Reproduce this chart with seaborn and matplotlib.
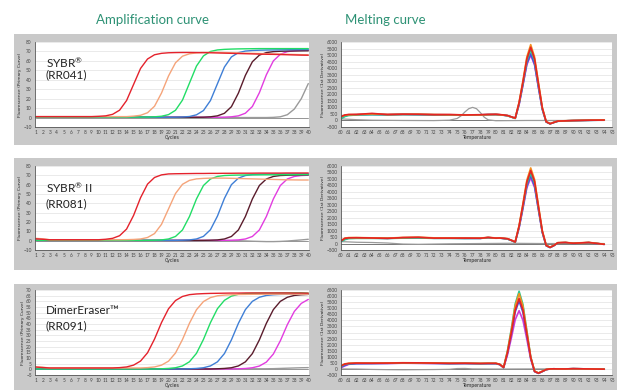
import seaborn as sns
import matplotlib.pyplot as plt
from matplotlib.patches import Rectangle
from matplotlib.ticker import MultipleLocator

# ---------------- data ----------------
cycles = list(range(1, 41))

# SYBR (RR041) amplification
sybr_red = [1, 1, 1, 1, 1, 1, 1, 1, 1, 1.3, 1.8, 3.4, 7.8, 18, 35, 52, 62, 66.5, 68, 68.6,
            68.8, 68.9, 68.9, 68.8, 68.7, 68.6, 68.4, 68.2, 68, 67.8, 67.6, 67.4, 67.2, 67, 66.9, 66.7, 66.5, 66.3, 66.1, 66]
sybr_orange = [1, 1, 1, 1, 1, 1, 1, 1, 1, 1, 1, 1, 1, 1, 1.5, 2.4, 5.1, 12, 26, 44,
               58, 65, 67.5, 68.5, 69, 69, 69, 68.8, 68.6, 68.4, 68.2, 68, 67.8, 67.6, 67.4, 67.2, 67, 66.8, 66.6, 66.4]
sybr_green = [0.5, 0.5, 0.5, 0.5, 0.5, 0.5, 0.5, 0.5, 0.5, 0.5, 0.5, 0.5, 0.5, 0.5, 0.5, 0.5, 0.6, 0.8, 1.4, 3.1,
              7.7, 18.5, 36.5, 54.5, 65.3, 70, 71.6, 72.2, 72.5, 72.7, 72.8, 72.9, 73, 73, 73, 73, 73, 73, 73, 73]
sybr_blue = [0.3, 0.3, 0.3, 0.3, 0.3, 0.3, 0.3, 0.3, 0.3, 0.3, 0.3, 0.3, 0.3, 0.3, 0.3, 0.3, 0.3, 0.3, 0.3, 0.3,
             0.4, 0.6, 1.1, 2.9, 7.4, 18, 35.8, 53.5, 64.2, 68.7, 70.4, 71, 71.3, 71.5, 71.6, 71.7, 71.8, 71.9, 72, 72]
sybr_maroon = [0.3, 0.3, 0.3, 0.3, 0.3, 0.3, 0.3, 0.3, 0.3, 0.3, 0.3, 0.3, 0.3, 0.3, 0.3, 0.3, 0.3, 0.3, 0.3, 0.3,
               0.3, 0.3, 0.3, 0.3, 0.4, 0.8, 1.8, 4.5, 11.5, 25.9, 44.7, 59.1, 66.1, 68.8, 69.8, 70.2, 70.4, 70.5, 70.6, 70.7]
sybr_magenta = [0.3, 0.3, 0.3, 0.3, 0.3, 0.3, 0.3, 0.3, 0.3, 0.3, 0.3, 0.3, 0.3, 0.3, 0.3, 0.3, 0.3, 0.3, 0.3, 0.3,
                0.3, 0.3, 0.3, 0.3, 0.3, 0.3, 0.3, 0.4, 0.8, 1.8, 4.6, 11.7, 26.3, 45.3, 60, 67, 69.8, 70.8, 71.2, 71.4]
sybr_gray = [0, 0, 0, 0, 0, 0, 0, 0, 0, 0, 0, 0, 0, 0, 0, 0, 0, 0, 0, 0,
             0, 0, 0, 0, 0, 0, 0, 0, 0, 0, 0, 0, 0, 0, 0.2, 0.8, 3, 9, 20, 36]

# SYBR II (RR081) amplification
sybr2_red = [2, 1.5, 1, 1, 1, 1, 1, 1, 1, 1, 1.5, 2.5, 5.3, 12.4, 27, 46, 60.6, 67.7, 70.5, 71.5,
             71.7, 71.8, 71.9, 72, 72, 72.1, 72.1, 72.2, 72.2, 72.3, 72.3, 72.3, 72.4, 72.4, 72.4, 72.4, 72.5, 72.5, 72.5, 72.5]
sybr2_orange = [2.5, 2, 1, 1, 1, 1, 1, 1, 1, 1, 1, 1, 1, 1.1, 1.3, 1.8, 3.4, 7.6, 17.5, 34,
                50.5, 60.4, 64.6, 66.2, 66.7, 67, 67, 67, 66.8, 66.6, 66.4, 66.2, 66, 65.8, 65.6, 65.4, 65.2, 65.1, 65, 65]
sybr2_green = [0.3, 0.3, 0.3, 0.3, 0.3, 0.3, 0.3, 0.3, 0.3, 0.3, 0.3, 0.3, 0.3, 0.3, 0.3, 0.3, 0.35, 0.5, 0.8, 1.8,
               4.5, 11.5, 25.9, 44.7, 59.1, 66.1, 68.8, 69.8, 70.1, 70.3, 70.4, 70.5, 70.5, 70.6, 70.6, 70.7, 70.7, 70.7, 70.8, 70.8]
sybr2_blue = [0.3, 0.3, 0.3, 0.3, 0.3, 0.3, 0.3, 0.3, 0.3, 0.3, 0.3, 0.3, 0.3, 0.3, 0.3, 0.3, 0.3, 0.3, 0.3, 0.3,
              0.35, 0.5, 0.8, 1.8, 4.6, 11.7, 26.3, 45.3, 60, 67, 69.8, 70.8, 71.1, 71.3, 71.4, 71.5, 71.5, 71.6, 71.6, 71.7]
sybr2_maroon = [0.3, 0.3, 0.3, 0.3, 0.3, 0.3, 0.3, 0.3, 0.3, 0.3, 0.3, 0.3, 0.3, 0.3, 0.3, 0.3, 0.3, 0.3, 0.3, 0.3,
                0.3, 0.3, 0.3, 0.3, 0.35, 0.5, 0.8, 1.8, 4.5, 11.5, 25.9, 44.7, 59.1, 66.1, 68.8, 69.8, 70.1, 70.3, 70.4, 70.5]
sybr2_magenta = [0.3, 0.3, 0.3, 0.3, 0.3, 0.3, 0.3, 0.3, 0.3, 0.3, 0.3, 0.3, 0.3, 0.3, 0.3, 0.3, 0.3, 0.3, 0.3, 0.3,
                 0.3, 0.3, 0.3, 0.3, 0.3, 0.3, 0.3, 0.35, 0.5, 0.8, 1.8, 4.5, 11.5, 25.9, 44.7, 59.1, 66.1, 68.8, 69.8, 70.1]
sybr2_gray = [0, 0, 0, 0, 0, 0, 0, 0, 0, 0, 0, 0, 0, 0, 0, 0, 0, 0, 0, 0,
              0, 0, 0, 0, 0, 0, 0, 0, 0, 0, -0.3, -0.6, -0.8, -1, -1, -0.8, -0.4, 0.2, 0.8, 1.5]

# DimerEraser (RR091) amplification
dimer_red = [2, 1.6, 1.2, 1.2, 1.2, 1.2, 1.2, 1.2, 1.2, 1.2, 1.2, 1.2, 1.5, 2.1, 3.7, 7.3, 14.6, 26.7, 41.3, 53.4,
             60.7, 64.3, 65.9, 66.5, 66.8, 67, 67.1, 67.2, 67.3, 67.3, 67.4, 67.4, 67.4, 67.4, 67.4, 67.4, 67.4, 67.3, 67.3, 67.2]
dimer_orange = [2.2, 1.8, 1.2, 1.2, 1.2, 1.2, 1.2, 1.2, 1.2, 1.2, 1.2, 1.2, 1.2, 1.2, 1.2, 1.2, 1.5, 2.1, 3.7, 7.2,
                14.4, 26.3, 40.7, 52.6, 59.8, 63.3, 64.9, 65.5, 65.8, 66, 66.1, 66.2, 66.2, 66.3, 66.3, 66.3, 66.3, 66.3, 66.3, 66.3]
dimer_green = [0.3, 0.3, 0.3, 0.3, 0.3, 0.3, 0.3, 0.3, 0.3, 0.3, 0.3, 0.3, 0.3, 0.3, 0.3, 0.3, 0.3, 0.3, 0.5, 0.8,
               1.4, 3, 6.7, 14.1, 26.4, 41.2, 53.5, 60.9, 64.6, 66.2, 66.8, 67.1, 67.2, 67.3, 67.3, 67.4, 67.4, 67.5, 67.5, 67.2]
dimer_blue = [0.3, 0.3, 0.3, 0.3, 0.3, 0.3, 0.3, 0.3, 0.3, 0.3, 0.3, 0.3, 0.3, 0.3, 0.3, 0.3, 0.3, 0.3, 0.3, 0.3,
              0.3, 0.3, 0.5, 0.8, 1.4, 3, 6.6, 13.9, 26, 40.6, 52.7, 60, 63.6, 65.2, 65.8, 66.1, 66.2, 66.3, 66.3, 66.4]
dimer_maroon = [0.3, 0.3, 0.3, 0.3, 0.3, 0.3, 0.3, 0.3, 0.3, 0.3, 0.3, 0.3, 0.3, 0.3, 0.3, 0.3, 0.3, 0.3, 0.3, 0.3,
                0.3, 0.3, 0.3, 0.3, 0.3, 0.3, 0.5, 0.8, 1.4, 3, 6.6, 13.9, 26, 40.6, 52.7, 60, 63.6, 65.2, 65.8, 66.1]
dimer_magenta = [0.3, 0.3, 0.3, 0.3, 0.3, 0.3, 0.3, 0.3, 0.3, 0.3, 0.3, 0.3, 0.3, 0.3, 0.3, 0.3, 0.3, 0.3, 0.3, 0.3,
                 0.3, 0.3, 0.3, 0.3, 0.3, 0.3, 0.3, 0.3, 0.3, 0.5, 0.75, 1.4, 2.9, 6.4, 13.5, 25.2, 39.4, 51.1, 58.2, 61.7]
dimer_gray = [0.5, 0.5, 0.5, 0.5, 0.5, 0.5, 0.5, 0.5, 0.5, 0.5, 0.5, 0.5, 0.5, 0.5, 0.5, 0.5, 0.5, 0.5, 0.5, 0.5,
              0.5, 0.5, 0.5, 0.5, 0.5, 0.5, 0.5, 0.5, 0.5, 0.5, 0.5, 0.5, 0.5, 0.5, 0.6, 0.8, 1, 1.2, 1.4, 1.5]
amp_zero = [0, 0, 0, 0, 0, 0, 0, 0, 0, 0, 0, 0, 0, 0, 0, 0, 0, 0, 0, 0,
            0, 0, 0, 0, 0, 0, 0, 0, 0, 0, 0, 0, 0, 0, 0, 0, 0, 0, 0, 0]

# melting curves (-dF/dT)
temps = [60, 60.5, 61, 62, 64, 66, 68, 70, 72, 74, 76, 78, 79, 80, 80.5, 81, 81.5, 82, 82.5, 83,
         83.5, 84, 84.5, 85, 85.5, 86, 86.5, 87, 87.5, 88, 89, 90, 92, 94]

melt_sybr_red = [300, 420, 460, 460, 540, 450, 480, 470, 440, 450, 420, 440, 460, 470, 450, 420, 380, 280, 180, 1350,
                 2950, 4700, 5600, 4700, 2800, 950, -100, -250, -150, -50, -30, -10, 20, 30]
melt_sybr_orange = [280, 400, 440, 450, 500, 460, 470, 480, 460, 440, 430, 430, 450, 460, 440, 410, 370, 270, 170, 1400,
                    3050, 4850, 5800, 4850, 2900, 1000, -80, -240, -140, -50, -20, 0, 20, 40]
melt_sybr_green = [120, 300, 380, 420, 440, 430, 450, 440, 430, 420, 410, 420, 440, 450, 430, 400, 360, 260, 160, 1300,
                   2850, 4550, 5400, 4550, 2700, 900, -110, -250, -150, -60, -30, -10, 10, 30]
melt_sybr_blue = [200, 350, 420, 440, 460, 440, 460, 450, 440, 430, 420, 430, 450, 450, 430, 400, 360, 260, 160, 1250,
                  2750, 4350, 5100, 4300, 2550, 850, -120, -260, -150, -60, -30, -10, 10, 30]
melt_sybr_magenta = [220, 380, 430, 440, 470, 450, 470, 460, 440, 440, 420, 430, 450, 460, 440, 410, 370, 270, 170, 1200,
                     2700, 4250, 5000, 4250, 2500, 850, -100, -250, -150, -50, -30, -10, 20, 30]
gray_temps_sybr = [60, 62, 64, 68, 72, 74, 75, 75.5, 76, 76.5, 77, 77.5, 78, 78.5, 79, 80, 84, 88, 94]
melt_sybr_gray = [120, 60, 20, 0, -10, 20, 150, 350, 650, 900, 1000, 900, 600, 250, 50, -20, 0, 0, 0]

melt_sybr2_red = [200, 400, 440, 450, 430, 400, 460, 480, 420, 420, 420, 410, 470, 420, 430, 400, 370, 250, 120, 1350,
                  3000, 4750, 5650, 4800, 2850, 950, -150, -300, -150, 60, 80, 20, 80, -60]
melt_sybr2_orange = [220, 420, 460, 460, 440, 420, 470, 490, 440, 430, 420, 420, 480, 430, 440, 410, 380, 260, 130, 1400,
                     3100, 4900, 5850, 4950, 2950, 1000, -130, -280, -140, 70, 90, 30, 90, -50]
melt_sybr2_green = [150, 300, 380, 400, 400, 390, 420, 430, 400, 400, 390, 400, 450, 410, 420, 390, 350, 240, 110, 1300,
                    2900, 4600, 5450, 4650, 2750, 900, -160, -300, -150, 50, 70, 20, 70, -60]
melt_sybr2_blue = [180, 350, 420, 430, 420, 400, 440, 450, 410, 410, 400, 400, 460, 420, 420, 390, 350, 240, 110, 1250,
                   2800, 4450, 5250, 4450, 2650, 870, -170, -310, -160, 50, 70, 20, 70, -60]
melt_sybr2_magenta = [200, 380, 430, 440, 430, 410, 450, 460, 420, 420, 410, 410, 460, 420, 430, 400, 360, 250, 120, 1200,
                      2700, 4300, 5100, 4350, 2600, 850, -160, -300, -150, 50, 70, 20, 70, -60]
gray_temps_sybr2 = [60, 62, 64, 66, 68, 70, 74, 78, 82, 86, 90, 94]
melt_sybr2_gray = [150, 100, 80, 40, -40, -60, -20, 0, 20, 0, 0, 0]

melt_dimer_red = [250, 400, 450, 480, 470, 480, 500, 500, 480, 460, 470, 450, 460, 460, 380, 120, 1350, 3000, 4850, 5800,
                  4850, 2900, 950, -200, -350, -200, -50, 0, 10, 0, 0, 20, 0, -20]
melt_dimer_orange = [250, 420, 470, 490, 480, 490, 510, 500, 490, 470, 470, 460, 470, 470, 390, 130, 1450, 3200, 5200, 6200,
                     5150, 3100, 1000, -180, -330, -190, -40, 0, 10, 0, 0, 20, 0, -20]
melt_dimer_green = [200, 380, 430, 460, 460, 470, 490, 480, 470, 450, 460, 440, 450, 450, 370, 110, 1500, 3300, 5350, 6400,
                    5300, 3150, 1000, -190, -340, -200, -50, 0, 10, 0, 0, 20, 0, -20]
melt_dimer_blue = [150, 300, 400, 440, 450, 460, 480, 470, 460, 440, 450, 430, 440, 440, 360, 110, 1300, 2900, 4700, 5600,
                   4650, 2800, 900, -210, -360, -210, -50, 0, 10, 0, 0, 20, 0, -20]
melt_dimer_magenta = [100, 250, 380, 430, 440, 450, 470, 460, 450, 430, 440, 420, 430, 430, 350, 100, 1150, 2550, 4050, 4800,
                      4000, 2450, 800, -220, -370, -220, -60, 0, 10, 0, 0, 20, 0, -20]
gray_temps_dimer = [60, 62, 64, 66, 68, 70, 72, 74, 75, 76, 77, 80, 84, 88, 94]
melt_dimer_gray = [0, -10, -40, -60, -70, -60, -50, -30, 30, 40, 0, -10, 0, 0, 0]

flat_temps = [60, 94]
flat_zero = [0, 0]

kits = ["SYBR$^{\u00ae}$", "SYBR$^{\u00ae}$ II", "DimerEraser\u2122"]
cat_nos = ["(RR041)", "(RR081)", "(RR091)"]

amp_colors = ['#9a9a9a', '#e23ce0', '#5a1c2c', '#3f7fd6', '#22dd66', '#f5a47a', '#e4222c']
melt_colors = ['#d03cd8', '#4650e0', '#2cc890', '#f39020', '#e52424']

amp_rows = [
    [sybr_gray, sybr_magenta, sybr_maroon, sybr_blue, sybr_green, sybr_orange, sybr_red],
    [sybr2_gray, sybr2_magenta, sybr2_maroon, sybr2_blue, sybr2_green, sybr2_orange, sybr2_red],
    [dimer_gray, dimer_magenta, dimer_maroon, dimer_blue, dimer_green, dimer_orange, dimer_red],
]
melt_rows = [
    [melt_sybr_magenta, melt_sybr_blue, melt_sybr_green, melt_sybr_orange, melt_sybr_red],
    [melt_sybr2_magenta, melt_sybr2_blue, melt_sybr2_green, melt_sybr2_orange, melt_sybr2_red],
    [melt_dimer_magenta, melt_dimer_blue, melt_dimer_green, melt_dimer_orange, melt_dimer_red],
]
melt_grays = [(gray_temps_sybr, melt_sybr_gray), (gray_temps_sybr2, melt_sybr2_gray), (gray_temps_dimer, melt_dimer_gray)]
amp_ylims = [(-10, 80, 10), (-10, 80, 10), (-5, 70, 5)]
melt_ylims = [(-500, 6000), (-500, 6000), (-500, 6500)]

# ---------------- style ----------------
sns.set_style("white")
plt.rcParams['font.family'] = ['Lato', 'DejaVu Sans']
plt.rcParams['mathtext.default'] = 'regular'

W, H = 617, 390
fig = plt.figure(figsize=(W / 100, H / 100), dpi=100)
fig.patch.set_facecolor('white')

band_tops = [34, 158, 284]
band_bottoms = [145, 270, 390]
for top, bot in zip(band_tops, band_bottoms):
    fig.add_artist(Rectangle((14 / W, 1 - bot / H), (W - 14) / W, (bot - top) / H,
                             transform=fig.transFigure, facecolor='#c9c9c9', edgecolor='none', zorder=0))

ax_tops = [42, 166, 290]
ax_bots = [127, 250, 375]
label_y = [(0.76, 0.61), (0.74, 0.555), (0.755, 0.575)]


def style_axes(ax):
    ax.set_facecolor('white')
    for s in ['top', 'right']:
        ax.spines[s].set_visible(False)
    for s in ['left', 'bottom']:
        ax.spines[s].set_color('#555555')
        ax.spines[s].set_linewidth(0.6)
    ax.tick_params(axis='both', which='major', labelsize=3.4, length=1.8, width=0.5,
                   colors='#444444', pad=0.6)
    ax.tick_params(axis='x', which='minor', length=1.1, width=0.4, colors='#444444')
    ax.yaxis.grid(True, color='#e2e2e2', linewidth=0.5)
    ax.set_axisbelow(True)


def plot_amplification(ax, curves, ylim, kit, cat, ly):
    sns.lineplot(x=cycles, y=amp_zero, ax=ax, color='#888888', linewidth=0.6, estimator=None, legend=False)
    for vals, col in zip(curves, amp_colors):
        sns.lineplot(x=cycles, y=vals, ax=ax, color=col, linewidth=1.0, estimator=None, legend=False)
    lo, hi, step = ylim
    ax.set_ylim(lo, hi)
    ax.set_xlim(0.9, 40.1)
    ax.xaxis.set_major_locator(MultipleLocator(1))
    ax.xaxis.set_minor_locator(MultipleLocator(0.5))
    ax.yaxis.set_major_locator(MultipleLocator(step))
    ax.set_xlabel("Cycles", fontsize=3.3, labelpad=0, family='DejaVu Sans')
    ax.set_ylabel("Fluorescence (Primary Curve)", fontsize=3.2, labelpad=1, family='DejaVu Sans')
    style_axes(ax)
    ax.text(0.04, ly[0], kit, transform=ax.transAxes, fontsize=8.5, va='center', ha='left', color='#222222')
    ax.text(0.04, ly[1], cat, transform=ax.transAxes, fontsize=8.5, va='center', ha='left', color='#222222')


def plot_melting(ax, curves, gray, ylim):
    sns.lineplot(x=flat_temps, y=flat_zero, ax=ax, color='#777777', linewidth=0.7, estimator=None, legend=False)
    sns.lineplot(x=gray[0], y=gray[1], ax=ax, color='#9a9a9a', linewidth=0.9, estimator=None, legend=False)
    for vals, col in zip(curves, melt_colors):
        sns.lineplot(x=temps, y=vals, ax=ax, color=col, linewidth=1.2, estimator=None, legend=False)
    ax.set_ylim(*ylim)
    ax.set_xlim(60, 95)
    ax.xaxis.set_major_locator(MultipleLocator(1))
    ax.xaxis.set_minor_locator(MultipleLocator(0.5))
    ax.yaxis.set_major_locator(MultipleLocator(500))
    ax.set_xlabel("Temperature", fontsize=3.3, labelpad=0, family='DejaVu Sans')
    ax.set_ylabel("Fluorescence (1st Derivative)", fontsize=3.2, labelpad=1, family='DejaVu Sans')
    style_axes(ax)


for i in range(3):
    bottom = 1 - ax_bots[i] / H
    height = (ax_bots[i] - ax_tops[i]) / H
    ax_amp = fig.add_axes([35 / W, bottom, 274 / W, height])
    plot_amplification(ax_amp, amp_rows[i], amp_ylims[i], kits[i], cat_nos[i], label_y[i])
    ax_melt = fig.add_axes([341 / W, bottom, 271 / W, height])
    plot_melting(ax_melt, melt_rows[i], melt_grays[i], melt_ylims[i])

title_color = '#2e9275'
fig.text(152 / W, 1 - 20 / H, "Amplification curve", fontsize=9.5, color=title_color, ha='center', va='center')
fig.text(385 / W, 1 - 20 / H, "Melting curve", fontsize=9.5, color=title_color, ha='center', va='center')

fig.savefig("out.png", dpi=100)
